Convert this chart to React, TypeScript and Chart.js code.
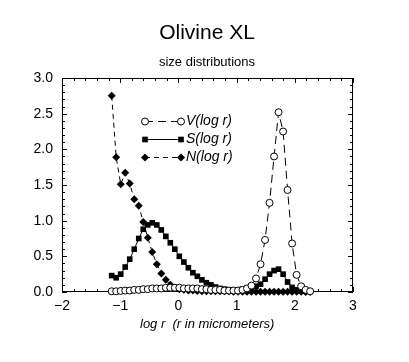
import React, { useEffect, useRef } from "react";
import { Chart, registerables } from "chart.js";

Chart.register(...registerables);

const chartTitle = "Olivine XL";
const chartSubtitle = "size distributions";
const xAxisTitle = "log r  (r in micrometers)";
const seriesLabels = ["V(log r)", "S(log r)", "N(log r)"];

const logR = [
  -1.146, -1.069, -0.991, -0.914, -0.836, -0.759, -0.681, -0.604, -0.526, -0.449,
  -0.371, -0.294, -0.216, -0.139, -0.061, 0.016, 0.094, 0.171, 0.249, 0.326,
  0.404, 0.481, 0.559, 0.636, 0.714, 0.791, 0.869, 0.946, 1.024, 1.101,
  1.179, 1.256, 1.334, 1.411, 1.489, 1.566, 1.644, 1.721, 1.799, 1.876,
  1.954, 2.031, 2.109, 2.186, 2.264,
];

const vValues = [
  0.01, 0.01, 0.015, 0.02, 0.02, 0.03, 0.03, 0.04, 0.04, 0.05,
  0.05, 0.05, 0.06, 0.06, 0.06, 0.06, 0.05, 0.05, 0.05, 0.05,
  0.04, 0.04, 0.03, 0.03, 0.03, 0.02, 0.02, 0.02, 0.02, 0.03,
  0.05, 0.09, 0.19, 0.39, 0.73, 1.25, 1.9, 2.52, 2.25, 1.43,
  0.68, 0.24, 0.08, 0.03, 0.01,
];

const sValues = [
  0.23, 0.2, 0.25, 0.35, 0.46, 0.6, 0.75, 0.88, 0.94, 0.97,
  0.94, 0.87, 0.78, 0.69, 0.6, 0.5, 0.42, 0.34, 0.27, 0.22,
  0.17, 0.13, 0.1, 0.07, 0.05, 0.04, 0.03, 0.03, 0.03, 0.04,
  0.05, 0.06, 0.08, 0.11, 0.18, 0.25, 0.3, 0.32, 0.25, 0.14,
  0.065, 0.03, 0.02, 0.01, 0.01,
];

const nValues = [
  2.75, 1.89, 1.51, 1.67, 1.52, 1.3, 1.21, 0.98, 0.76, 0.56,
  0.39, 0.26, 0.17, 0.1, 0.06, 0.04, 0.03, 0.02, 0.02, 0.015,
  0.01, 0.01, 0.01, 0.01, 0.01, 0.01, 0.01, 0.005, 0.005, 0.005,
  0.005, 0.005, 0.005, 0.005, 0.005, 0.005, 0.005, 0.005, 0.005, 0.005,
  0.005, 0.003, 0.002, 0.001, 0.001,
];

const xMin = -2;
const xMax = 3;
const yMin = 0;
const yMax = 3;

const FONT = '"Liberation Sans", Arial, Helvetica, sans-serif';

function drawMarker(ctx: CanvasRenderingContext2D, style: string, x: number, y: number, r: number) {
  ctx.beginPath();
  if (style === "circle") {
    ctx.arc(x, y, r, 0, Math.PI * 2);
    ctx.fillStyle = "#fff";
    ctx.fill();
    ctx.stroke();
  } else if (style === "rect") {
    const s = r * Math.SQRT1_2;
    ctx.rect(x - s, y - s, 2 * s, 2 * s);
    ctx.fillStyle = "#000";
    ctx.fill();
  } else {
    ctx.moveTo(x - r, y);
    ctx.lineTo(x, y - r);
    ctx.lineTo(x + r, y);
    ctx.lineTo(x, y + r);
    ctx.closePath();
    ctx.fillStyle = "#000";
    ctx.fill();
  }
}

const framePlugin = {
  id: "frameTicks",
  beforeDatasetsDraw(chart: any) {
    const { ctx, chartArea: a, scales } = chart;
    const x = scales.x;
    const y = scales.y;
    ctx.save();
    ctx.strokeStyle = "#000";
    ctx.lineWidth = 1;
    ctx.strokeRect(a.left + 0.5, a.top + 0.5, a.right - a.left - 1, a.bottom - a.top - 1);
    ctx.beginPath();
    for (let i = 0; i <= (xMax - xMin) * 5; i++) {
      const v = xMin + i * 0.2;
      const px = Math.round(x.getPixelForValue(v)) + 0.5;
      const len = i % 5 === 0 ? 5 : 3;
      ctx.moveTo(px, a.bottom);
      ctx.lineTo(px, a.bottom - len);
      ctx.moveTo(px, a.top);
      ctx.lineTo(px, a.top + len);
    }
    for (let i = 0; i <= (yMax - yMin) * 10; i++) {
      const v = yMin + i * 0.1;
      const py = Math.round(y.getPixelForValue(v)) + 0.5;
      const len = i % 5 === 0 ? 5 : 3;
      ctx.moveTo(a.left, py);
      ctx.lineTo(a.left + len, py);
      ctx.moveTo(a.right, py);
      ctx.lineTo(a.right - len, py);
    }
    ctx.stroke();
    ctx.restore();
  },
  afterDatasetsDraw(chart: any) {
    const { ctx, chartArea: a } = chart;
    ctx.save();
    const x1 = a.left + 83;
    const x2 = a.left + 119;
    chart.data.datasets.forEach((ds: any, i: number) => {
      const yy = a.top + 43.5 + i * 18;
      ctx.strokeStyle = "#000";
      ctx.lineWidth = 1;
      ctx.setLineDash(ds.borderDash || []);
      ctx.beginPath();
      ctx.moveTo(x1, yy);
      ctx.lineTo(x2, yy);
      ctx.stroke();
      ctx.setLineDash([]);
      drawMarker(ctx, ds.pointStyle, x1, yy, ds.pointRadius);
      drawMarker(ctx, ds.pointStyle, x2, yy, ds.pointRadius);
      ctx.fillStyle = "#000";
      ctx.font = "italic 14px " + FONT;
      ctx.textAlign = "left";
      ctx.textBaseline = "middle";
      ctx.fillText(ds.label, x2 + 5, yy);
    });
    ctx.restore();
  },
  afterDraw(chart: any) {
    const { ctx } = chart;
    ctx.save();
    ctx.fillStyle = "#000";
    ctx.textAlign = "center";
    ctx.textBaseline = "alphabetic";
    ctx.font = "21px " + FONT;
    ctx.fillText(chartTitle, 207, 39);
    ctx.font = "13px " + FONT;
    ctx.fillText(chartSubtitle, 207, 66);
    ctx.font = "italic 13px " + FONT;
    ctx.textAlign = "left";
    ctx.fillText(xAxisTitle, 140, 328);
    ctx.restore();
  },
};

export default function App() {
  const ref = useRef<HTMLCanvasElement | null>(null);

  useEffect(() => {
    if (!ref.current) return;
    const mk = (vals: number[]) => logR.map((x, i) => ({ x, y: vals[i] }));
    const chart = new Chart(ref.current, {
      type: "line",
      data: {
        datasets: [
          {
            label: seriesLabels[0],
            data: mk(vValues),
            borderColor: "#000",
            borderWidth: 1,
            borderDash: [8, 5],
            pointStyle: "circle",
            pointRadius: 3.5,
            pointBackgroundColor: "#fff",
            pointBorderColor: "#000",
            pointBorderWidth: 1,
            tension: 0,
            clip: false,
          },
          {
            label: seriesLabels[1],
            data: mk(sValues),
            borderColor: "#000",
            borderWidth: 1,
            borderDash: [],
            pointStyle: "rect",
            pointRadius: 4,
            pointBackgroundColor: "#000",
            pointBorderColor: "#000",
            pointBorderWidth: 0,
            tension: 0,
            clip: false,
          },
          {
            label: seriesLabels[2],
            data: mk(nValues),
            borderColor: "#000",
            borderWidth: 1,
            borderDash: [5, 4],
            pointStyle: "rectRot",
            pointRadius: 4,
            pointBackgroundColor: "#000",
            pointBorderColor: "#000",
            pointBorderWidth: 0,
            tension: 0,
            clip: false,
          },
        ],
      },
      options: {
        responsive: false,
        animation: false,
        events: [],
        layout: { padding: { left: 0, top: 78, right: 56, bottom: 0 } },
        plugins: {
          legend: { display: false },
          title: { display: false },
          tooltip: { enabled: false },
        },
        scales: {
          x: {
            type: "linear",
            min: xMin,
            max: xMax,
            afterFit: (s: any) => {
              s.height = 70;
            },
            grid: { display: false, drawTicks: false },
            border: { display: false },
            ticks: {
              stepSize: 1,
              padding: 6,
              color: "#000",
              maxRotation: 0,
              font: { family: FONT, size: 14 },
              callback: (v: any) => (Number(v) < 0 ? "\u2212" + Math.abs(Number(v)) : String(v)),
            },
          },
          y: {
            type: "linear",
            min: yMin,
            max: yMax,
            afterFit: (s: any) => {
              s.width = 62;
            },
            grid: { display: false, drawTicks: false },
            border: { display: false },
            ticks: {
              stepSize: 0.5,
              padding: 9,
              color: "#000",
              font: { family: FONT, size: 14 },
              callback: (v: any) => Number(v).toFixed(1),
            },
          },
        },
      },
      plugins: [framePlugin],
    });
    return () => chart.destroy();
  }, []);

  return (
    <div style={{ position: "fixed", left: 0, top: 0, width: 409, height: 362, background: "#fff" }}>
      <canvas ref={ref} width={409} height={362} />
    </div>
  );
}
